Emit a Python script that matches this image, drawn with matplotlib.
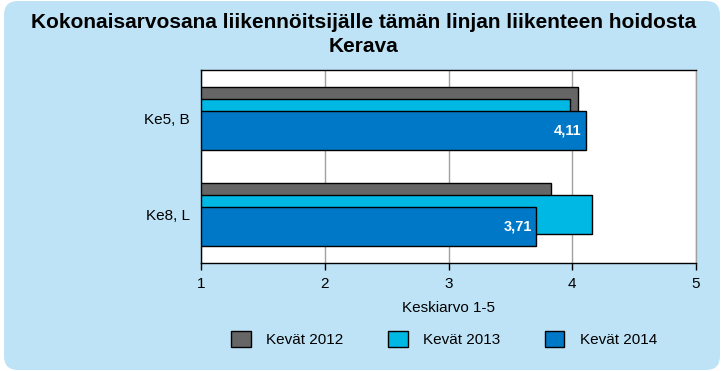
import numpy as np
import matplotlib.pyplot as plt
from matplotlib.patches import FancyBboxPatch, Patch
from matplotlib.transforms import IdentityTransform

plt.rcParams['font.family'] = ['Liberation Sans', 'DejaVu Sans']

categories = ["Ke5, B", "Ke8, L"]
series_names = ["Kevät 2012", "Kevät 2013", "Kevät 2014"]
values_2012 = [4.05, 3.83]
values_2013 = [3.98, 4.16]
values_2014 = [4.11, 3.71]
labels_2014 = ["4,11", "3,71"]

colors = ["#666666", "#00B8E4", "#0078C8"]
bg_color = "#BEE3F6"

W, H = 728, 371
fig = plt.figure(figsize=(W / 100, H / 100), dpi=100)
fig.patch.set_facecolor("white")

# rounded light blue panel behind everything
panel = FancyBboxPatch(
    (4, 1), 716, 369,
    boxstyle="round,pad=0,rounding_size=14",
    transform=IdentityTransform(),
    facecolor=bg_color,
    edgecolor="none",
    zorder=-10
)
fig.patches.append(panel)

ax = fig.add_axes([201 / W, (H - 263) / H, (696 - 201) / W, (263 - 70) / H])
ax.set_facecolor("white")

y = np.arange(len(categories))
bar_h = 0.40
offset = 0.124

all_values = [values_2012, values_2013, values_2014]
for i, (vals, col, name) in enumerate(zip(all_values, colors, series_names)):
    widths = np.array(vals) - 1
    ax.barh(
        y + (i - 1) * offset,
        widths,
        left=1,
        height=bar_h,
        color=col,
        edgecolor="black",
        linewidth=1.0,
        zorder=3 + i,
        label=name
    )

for yi, v, lab in zip(y, values_2014, labels_2014):
    ax.text(v - 0.035, yi + offset, lab, ha="right", va="center",
            color="white", fontsize=10.5, fontweight="bold", zorder=10)

ax.set_xlim(1, 5)
ax.set_ylim(1.5, -0.5)
ax.set_xticks([1, 2, 3, 4, 5])
ax.set_xticklabels(["1", "2", "3", "4", "5"], fontsize=11)
ax.set_yticks(y)
ax.set_yticklabels(categories, fontsize=11)
ax.tick_params(axis="y", length=0, pad=8)
ax.tick_params(axis="x", length=5, width=1, direction="out", pad=5, colors="black")

ax.grid(axis="x", color="#A0A0A0", linewidth=1, zorder=0)
ax.set_axisbelow(True)

for side in ["top", "left", "bottom"]:
    ax.spines[side].set_color("black")
    ax.spines[side].set_linewidth(1)
ax.spines["right"].set_color("#A0A0A0")
ax.spines["right"].set_linewidth(1)

ax.set_xlabel("Keskiarvo 1-5", fontsize=11, labelpad=7)

fig.text(0.5, (H - 22) / H, "Kokonaisarvosana liikennöitsijälle tämän linjan liikenteen hoidosta",
         ha="center", va="center", fontsize=15, fontweight="bold")
fig.text(0.5, (H - 47) / H, "Kerava",
         ha="center", va="center", fontsize=15, fontweight="bold")

handles = [Patch(facecolor=c, edgecolor="black", linewidth=1) for c in colors]
fig.legend(
    handles, series_names,
    loc="center", bbox_to_anchor=(444 / W, (H - 339) / H),
    ncol=3, frameon=False, fontsize=11,
    handlelength=1.3, handleheight=1.3, handletextpad=1.0,
    columnspacing=2.9
)

fig.savefig("out.png", dpi=100, facecolor=fig.get_facecolor())
